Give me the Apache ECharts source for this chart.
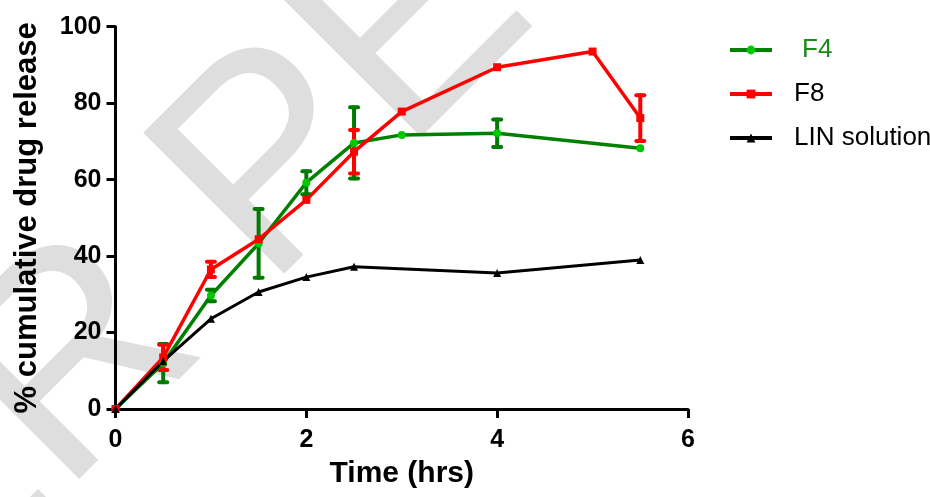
<!DOCTYPE html>
<html>
<head>
<meta charset="utf-8">
<script src="https://cdn.jsdelivr.net/npm/echarts@6/dist/echarts.min.js"></script>
<style>
  html, body { margin: 0; padding: 0; background: #fff; }
  #chart { width: 930px; height: 497px; }
</style>
</head>
<body>
<div id="chart"></div>
<script>
// time points (hrs) and % cumulative drug release
var f4_time = [0, 0.5, 1, 1.5, 2, 2.5, 3, 4, 5.5];
var f4_mean = [0, 12, 29.7, 43.3, 59.2, 69.6, 71.7, 72.1, 68.2];
var f4_err  = [0, 5, 1.5, 9, 3, 9.3, 0, 3.6, 0];

var f8_time = [0, 0.5, 1, 1.5, 2, 2.5, 3, 4, 5, 5.5];
var f8_mean = [0, 13.5, 36.5, 44.4, 54.7, 67.3, 77.8, 89.4, 93.5, 76.1];
var f8_err  = [0, 3.3, 2, 0, 0, 5.7, 0, 0, 0, 6];

var lin_time = [0, 0.5, 1, 1.5, 2, 2.5, 4, 5.5];
var lin_mean = [0, 12.5, 23.6, 30.6, 34.5, 37.2, 35.6, 39];

var x_ticks = [0, 2, 4, 6];
var y_ticks = [0, 20, 40, 60, 80, 100];

var FONT = 'Liberation Sans, Arial, sans-serif';

function pairs(xs, ys) {
    var out = [];
    for (var i = 0; i < xs.length; i++) {
        out.push([xs[i], ys[i]]);
    }
    return out;
}

function errData(xs, ys, es) {
    var out = [];
    for (var i = 0; i < xs.length; i++) {
        if (es[i] > 0) {
            out.push([xs[i], ys[i] - es[i], ys[i] + es[i]]);
        }
    }
    return out;
}

function errSeries(name, data, color) {
    return {
        name: name,
        type: 'custom',
        data: data,
        silent: true,
        renderItem: function (params, api) {
            var top = api.coord([api.value(0), api.value(2)]);
            var bot = api.coord([api.value(0), api.value(1)]);
            var w = 4;
            var st = {stroke: color, lineWidth: 4, lineCap: 'round'};
            return {
                type: 'group',
                children: [
                    {type: 'line', shape: {x1: top[0], y1: top[1], x2: bot[0], y2: bot[1]}, style: st},
                    {type: 'line', shape: {x1: top[0] - w, y1: top[1], x2: top[0] + w, y2: top[1]}, style: st},
                    {type: 'line', shape: {x1: bot[0] - w, y1: bot[1], x2: bot[0] + w, y2: bot[1]}, style: st}
                ]
            };
        }
    };
}

var axisCommon = {
    axisLine: {show: true, lineStyle: {color: '#000', width: 3}},
    axisTick: {show: true, length: 9, lineStyle: {color: '#000', width: 3}},
    splitLine: {show: false},
    axisLabel: {color: '#000', fontSize: 25, fontWeight: 'bold', fontFamily: FONT}
};

var mychart = echarts.init(document.getElementById('chart'));

var option = {
    animation: false,
    backgroundColor: '#fff',
    graphic: [{
        // grey watermark behind the plot
        type: 'text',
        z: -10,
        x: 530,
        y: -85,
        rotation: Math.PI / 4,
        silent: true,
        style: {
            text: 'UNDER PEER REVIEW',
            fontSize: 290,
            fontFamily: 'Liberation Sans',
            fill: '#dedede',
            textAlign: 'center',
            verticalAlign: 'middle',
            textVerticalAlign: 'middle'
        }
    }],
    grid: {left: 115.5, right: 242, top: 26.7, bottom: 88, containLabel: false},
    legend: {
        orient: 'vertical',
        left: 728,
        top: 37,
        padding: 0,
        itemGap: 18,
        itemWidth: 42,
        itemHeight: 11,
        lineStyle: {width: 4},
        textStyle: {fontSize: 26, fontFamily: FONT, color: '#000', padding: [0, 0, 0, 17]},
        data: [
            {name: 'F4', textStyle: {color: '#1a8a1a', padding: [0, 0, 0, 25]}},
            {name: 'F8'},
            {name: 'LIN solution'}
        ]
    },
    xAxis: Object.assign({}, axisCommon, {
        type: 'value',
        min: x_ticks[0],
        max: x_ticks[x_ticks.length - 1],
        interval: 2,
        name: 'Time (hrs)',
        nameLocation: 'middle',
        nameGap: 50,
        nameTextStyle: {color: '#000', fontSize: 30, fontWeight: 'bold', fontFamily: FONT},
        axisLabel: Object.assign({}, axisCommon.axisLabel, {margin: 19})
    }),
    yAxis: Object.assign({}, axisCommon, {
        type: 'value',
        min: y_ticks[0],
        max: y_ticks[y_ticks.length - 1],
        interval: 20,
        name: '% cumulative drug release',
        nameLocation: 'middle',
        nameGap: 73,
        nameTextStyle: {color: '#000', fontSize: 31, fontWeight: 'bold', fontFamily: FONT},
        axisLabel: Object.assign({}, axisCommon.axisLabel, {margin: 14})
    }),
    series: [
        errSeries('F4 sd', errData(f4_time, f4_mean, f4_err), '#007a00'),
        {
            name: 'F4',
            type: 'line',
            data: pairs(f4_time, f4_mean),
            symbol: 'circle',
            symbolSize: 8,
            lineStyle: {color: '#008000', width: 3.5},
            itemStyle: {color: '#00c800'}
        },
        errSeries('F8 sd', errData(f8_time, f8_mean, f8_err), '#ff0000'),
        {
            name: 'F8',
            type: 'line',
            data: pairs(f8_time, f8_mean),
            symbol: 'rect',
            symbolSize: 8,
            lineStyle: {color: '#ff0000', width: 3.5},
            itemStyle: {color: '#ff0000'}
        },
        {
            name: 'LIN solution',
            type: 'line',
            data: pairs(lin_time, lin_mean),
            symbol: 'triangle',
            symbolSize: 8,
            lineStyle: {color: '#000', width: 3},
            itemStyle: {color: '#000'}
        }
    ]
};

mychart.setOption(option);
</script>
</body>
</html>
